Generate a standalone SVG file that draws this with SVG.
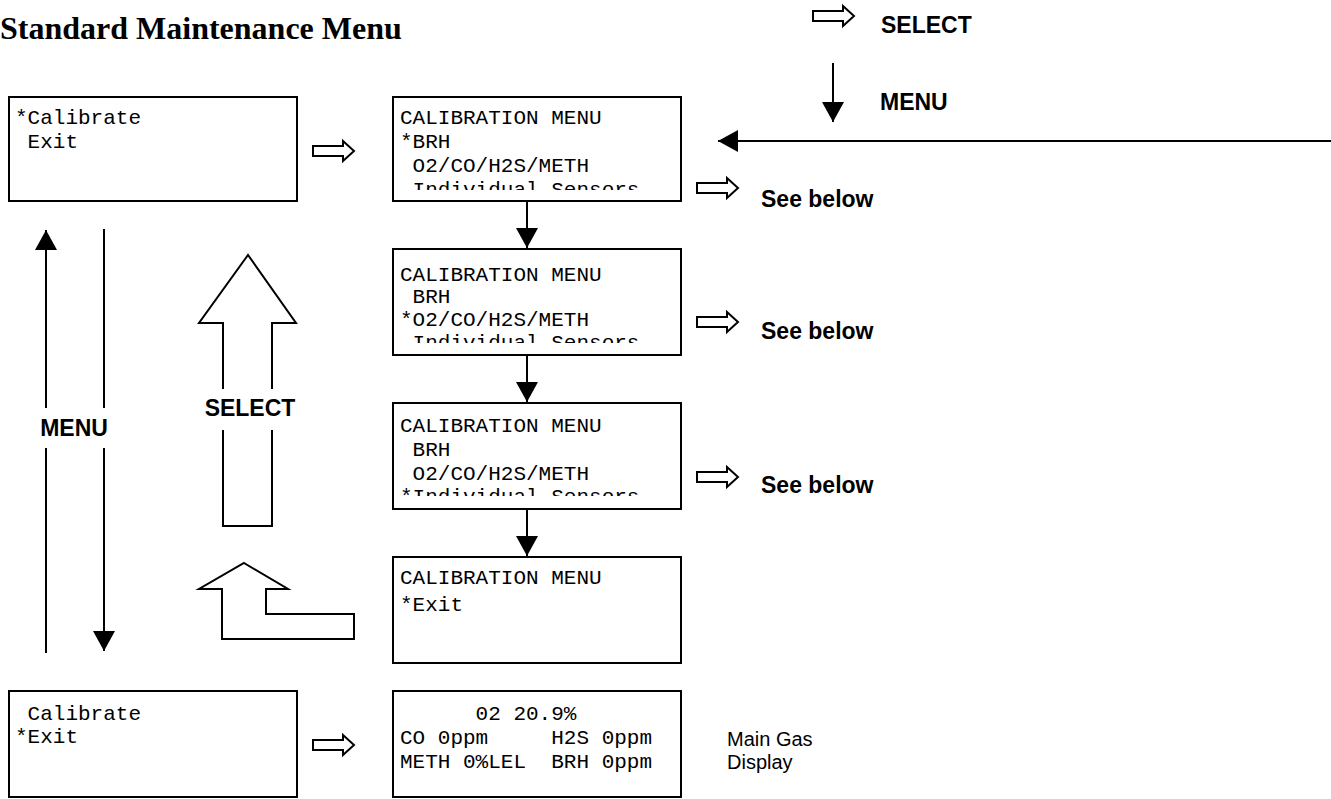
<svg xmlns="http://www.w3.org/2000/svg" xmlns:xlink="http://www.w3.org/1999/xlink" width="1331" height="799" viewBox="0 0 1331 799">
<style>
.box{fill:#fff;stroke:#000;stroke-width:2}
.mono{font-family:"Liberation Mono","Courier New",monospace;font-size:21px;fill:#000;white-space:pre}
.lbl{font-family:"Liberation Sans",Arial,sans-serif;font-size:23px;font-weight:bold;fill:#000}
.note{font-family:"Liberation Sans",Arial,sans-serif;font-size:20px;fill:#000}
.title{font-family:"Liberation Serif","Times New Roman",serif;font-size:32px;font-weight:bold;fill:#000}
.ln{stroke:#000;stroke-width:2;fill:none}
.hollow{fill:#fff;stroke:#000;stroke-width:2;stroke-linejoin:miter}
</style>
<defs>
<marker id="ah" viewBox="0 0 20 22" refX="20" refY="11" markerWidth="20" markerHeight="22" markerUnits="userSpaceOnUse" orient="auto">
<path d="M0,0 L20,11 L0,22 Z" fill="#000"/>
</marker>
<path id="ha" d="M0,-5 H30 V-10 L41,0 L30,10 V5 H0 Z" class="hollow"/>
<clipPath id="c2"><rect x="394" y="98" width="286" height="92"/></clipPath>
<clipPath id="c3"><rect x="394" y="250" width="286" height="93"/></clipPath>
<clipPath id="c4"><rect x="394" y="404" width="286" height="92"/></clipPath>
</defs>
<rect width="1331" height="799" fill="#fff"/>
<text class="title" x="0" y="39">Standard Maintenance Menu</text>

<g id="legend">
<use href="#ha" x="813" y="16"/>
<text class="lbl" x="881" y="33">SELECT</text>
<line class="ln" x1="833" y1="63" x2="833" y2="122" marker-end="url(#ah)"/>
<text class="lbl" x="880" y="110">MENU</text>
</g>

<g id="node-main-calibrate">
<rect class="box" x="9" y="97" width="288" height="104"/>
<text class="mono" x="15" y="124">*Calibrate</text>
<text class="mono" x="15" y="148"> Exit</text>
</g>

<g id="node-main-exit">
<rect class="box" x="9" y="691" width="288" height="106"/>
<text class="mono" x="15" y="720"> Calibrate</text>
<text class="mono" x="15" y="743">*Exit</text>
</g>

<g id="node-cal-brh">
<rect class="box" x="393" y="97" width="288" height="104"/>
<g clip-path="url(#c2)">
<text class="mono" x="400" y="124">CALIBRATION MENU</text>
<text class="mono" x="400" y="148">*BRH</text>
<text class="mono" x="400" y="172"> O2/CO/H2S/METH</text>
<text class="mono" x="400" y="196"> Individual Sensors</text>
</g>
</g>

<g id="node-cal-o2">
<rect class="box" x="393" y="249" width="288" height="106"/>
<g clip-path="url(#c3)">
<text class="mono" x="400" y="281">CALIBRATION MENU</text>
<text class="mono" x="400" y="303"> BRH</text>
<text class="mono" x="400" y="326">*O2/CO/H2S/METH</text>
<text class="mono" x="400" y="349"> Individual Sensors</text>
</g>
</g>

<g id="node-cal-ind">
<rect class="box" x="393" y="403" width="288" height="106"/>
<g clip-path="url(#c4)">
<text class="mono" x="400" y="432">CALIBRATION MENU</text>
<text class="mono" x="400" y="456"> BRH</text>
<text class="mono" x="400" y="480"> O2/CO/H2S/METH</text>
<text class="mono" x="400" y="503">*Individual Sensors</text>
</g>
</g>

<g id="node-cal-exit">
<rect class="box" x="393" y="557" width="288" height="106"/>
<text class="mono" x="400" y="584">CALIBRATION MENU</text>
<text class="mono" x="400" y="611">*Exit</text>
</g>

<g id="node-gas-display">
<rect class="box" x="393" y="691" width="288" height="106"/>
<text class="mono" x="400" y="720">      02 20.9%</text>
<text class="mono" x="400" y="744">CO 0ppm     H2S 0ppm</text>
<text class="mono" x="400" y="768">METH 0%LEL  BRH 0ppm</text>
</g>

<g id="note-gas">
<text class="note" x="727" y="746">Main Gas</text>
<text class="note" x="727" y="769">Display</text>
</g>

<g id="connectors">
<use href="#ha" x="313" y="151"/>
<use href="#ha" x="313" y="745"/>
<use href="#ha" x="697" y="188"/>
<use href="#ha" x="697" y="322"/>
<use href="#ha" x="697" y="477"/>
<text class="lbl" x="761" y="207">See below</text>
<text class="lbl" x="761" y="339">See below</text>
<text class="lbl" x="761" y="493">See below</text>

<line class="ln" x1="527" y1="202" x2="527" y2="248" marker-end="url(#ah)"/>
<line class="ln" x1="527" y1="356" x2="527" y2="402" marker-end="url(#ah)"/>
<line class="ln" x1="527" y1="510" x2="527" y2="556" marker-end="url(#ah)"/>

<line class="ln" x1="1331" y1="141" x2="718" y2="141" marker-end="url(#ah)"/>

<line class="ln" x1="46" y1="408" x2="46" y2="230" marker-end="url(#ah)"/>
<line class="ln" x1="46" y1="653" x2="46" y2="448"/>
<line class="ln" x1="104" y1="229" x2="104" y2="408"/>
<line class="ln" x1="104" y1="448" x2="104" y2="651" marker-end="url(#ah)"/>
<text class="lbl" x="74" y="436" text-anchor="middle">MENU</text>

<path class="hollow" d="M223,389 V323 H199 L248,255 L296,323 H272 V389"/>
<path class="hollow" d="M223,430 V526 H272 V430" fill="none"/>
<text class="lbl" x="250" y="416" text-anchor="middle">SELECT</text>

<path class="hollow" d="M244,563 L288,589 H266 V614 H354 V639 H222 V589 H199 Z"/>
</g>
</svg>
